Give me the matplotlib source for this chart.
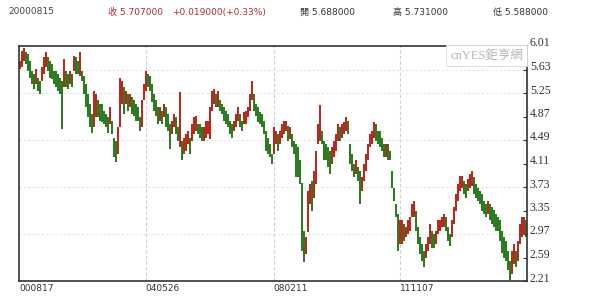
import matplotlib.pyplot as plt
import matplotlib.transforms as mtransforms
import numpy as np

# band top / bottom of each candle
highs = [
    5.77, 5.93, 5.98, 5.91, 5.88, 5.77, 5.61, 5.56, 5.64, 5.50,
    5.45, 5.67, 5.83, 5.91, 5.83, 5.77, 5.72, 5.61, 5.61, 5.56,
    5.50, 5.45, 5.80, 5.61, 5.56, 5.61, 5.56, 5.85, 5.83, 5.77,
    5.91, 5.61, 5.53, 5.40, 5.23, 5.07, 4.91, 5.29, 5.23, 5.13,
    5.07, 5.07, 4.96, 4.91, 4.86, 5.02, 4.80, 4.53, 4.48, 4.70,
    5.50, 5.45, 5.34, 5.29, 5.23, 5.23, 5.18, 5.13, 5.07, 5.02,
    4.86, 5.13, 5.40, 5.61,
    5.56, 5.53, 5.40, 5.23, 5.13, 5.02, 5.02, 4.96, 5.07, 5.02,
    4.91, 4.75, 4.80, 4.91, 4.86, 4.70, 5.26, 4.48, 4.53, 4.59,
    4.64, 4.53, 4.75, 4.86, 4.88, 4.75, 4.75, 4.70, 4.70, 4.80,
    4.80, 5.02, 5.29, 5.31, 5.23, 5.29, 5.13, 5.07, 5.02, 4.96,
    4.91, 4.80, 4.75, 4.80, 4.91, 5.02, 4.91, 4.80, 4.94, 4.96,
    5.02, 5.23, 5.45, 5.23, 5.07, 5.02, 4.94, 4.91, 4.80, 4.64,
    4.53, 4.43, 4.26,
    4.70, 4.64, 4.59, 4.64, 4.75, 4.80, 4.80, 4.72, 4.70, 4.59,
    4.48, 4.43, 4.37, 4.16, 3.80, 3.02, 2.92, 3.67, 3.78, 3.83,
    3.99, 4.32, 4.75, 5.05, 4.64, 4.48, 4.43, 4.37, 4.32, 4.37,
    4.48, 4.59, 4.75, 4.70, 4.75, 4.78, 4.86, 4.80, 4.43, 4.26,
    4.10, 4.16, 4.05, 3.99, 3.89, 4.10, 4.26, 4.43, 4.59, 4.64,
    4.78, 4.75, 4.64, 4.64, 4.53, 4.43, 4.43, 4.43, 4.32, 3.99,
    3.72, 3.46, 3.29, 3.19,
    3.19, 3.13, 3.08, 3.19, 3.24, 3.46, 3.51, 3.35, 3.08, 2.92,
    2.81, 2.70, 2.81, 2.92, 3.13, 3.02, 2.97, 3.02, 3.19, 3.19,
    3.24, 3.29, 3.24, 3.08, 2.97, 3.19, 3.40, 3.62, 3.78, 3.91,
    3.91, 3.83, 3.78, 3.86, 3.94, 3.99, 3.89, 3.78, 3.72, 3.67,
    3.62, 3.51, 3.46, 3.51, 3.46, 3.40, 3.35, 3.29, 3.24, 3.19,
    3.02, 2.92, 2.86, 2.70, 2.54, 2.70, 2.81, 2.70, 2.86, 3.13,
    3.24, 3.24, 3.19, 3.10,
]
lows = [
    5.64, 5.67, 5.77, 5.72, 5.61, 5.50, 5.40, 5.31, 5.40, 5.29,
    5.23, 5.45, 5.56, 5.67, 5.61, 5.50, 5.48, 5.40, 5.34, 5.29,
    5.23, 4.67, 5.34, 5.34, 5.31, 5.40, 5.34, 5.61, 5.56, 5.56,
    5.53, 5.45, 5.23, 5.02, 4.86, 4.70, 4.61, 4.70, 4.86, 4.86,
    4.80, 4.78, 4.75, 4.70, 4.61, 4.75, 4.59, 4.21, 4.13, 4.26,
    4.70, 5.07, 4.91, 5.07, 4.96, 5.02, 4.91, 4.88, 4.80, 4.80,
    4.64, 4.70, 5.13, 5.29,
    5.34, 5.29, 5.10, 4.96, 4.88, 4.75, 4.80, 4.75, 4.86, 4.70,
    4.64, 4.34, 4.59, 4.70, 4.59, 4.48, 4.37, 4.16, 4.26, 4.32,
    4.43, 4.26, 4.48, 4.59, 4.64, 4.59, 4.53, 4.48, 4.48, 4.53,
    4.59, 4.51, 4.96, 5.07, 5.02, 5.02, 4.96, 4.91, 4.80, 4.75,
    4.70, 4.59, 4.53, 4.64, 4.70, 4.80, 4.70, 4.64, 4.75, 4.75,
    4.86, 4.96, 5.13, 4.96, 4.88, 4.78, 4.75, 4.70, 4.59, 4.32,
    4.26, 4.21, 4.10,
    4.26, 4.43, 4.32, 4.43, 4.53, 4.59, 4.64, 4.48, 4.51, 4.37,
    4.26, 3.89, 3.89, 3.78, 2.70, 2.51, 2.65, 3.00, 3.46, 3.35,
    3.56, 3.78, 4.43, 4.48, 4.43, 4.16, 4.16, 4.05, 3.94, 4.10,
    4.21, 4.32, 4.48, 4.48, 4.53, 4.59, 4.64, 4.59, 4.10, 3.99,
    3.89, 3.94, 3.83, 3.46, 3.67, 3.83, 3.99, 4.16, 4.37, 4.43,
    4.53, 4.48, 4.43, 4.37, 4.32, 4.21, 4.21, 4.16, 4.16, 3.72,
    3.51, 3.24, 2.70, 2.81,
    2.81, 2.86, 2.92, 2.97, 3.02, 3.24, 3.24, 3.02, 2.81, 2.65,
    2.54, 2.43, 2.59, 2.70, 2.81, 2.75, 2.75, 2.81, 2.97, 3.02,
    3.08, 3.08, 3.02, 2.86, 2.78, 2.92, 3.13, 3.35, 3.51, 3.67,
    3.72, 3.62, 3.56, 3.67, 3.72, 3.75, 3.62, 3.56, 3.51, 3.46,
    3.35, 3.29, 3.24, 3.29, 3.19, 3.13, 3.08, 3.02, 3.02, 2.86,
    2.67, 2.59, 2.54, 2.38, 2.22, 2.32, 2.49, 2.43, 2.54, 2.81,
    2.92, 2.97, 2.92, 2.86,
]

date_labels = ['000817', '040526', '080211', '111107']
date_index = [0, 63, 127, 190]
price_ticks = [6.01, 5.63, 5.25, 4.87, 4.49, 4.11, 3.73, 3.35, 2.97, 2.59, 2.21]
grid_prices = [5.63, 5.25, 4.49, 3.73, 2.97]

code = '20000815'
close_text = '收 5.707000'
change_text = '+0.019000(+0.33%)'
open_text = '開 5.688000'
high_text = '高 5.731000'
low_text = '低 5.588000'

plt.rcParams['font.family'] = ['DejaVu Sans', 'Noto Sans CJK TC']

highs = np.array(highs)
lows = np.array(lows)
mid = (highs + lows) / 2
up = np.r_[True, mid[1:] >= mid[:-1]]
colors = np.where(up, '#b82a1e', '#2c7d22')
x = np.arange(len(highs))

fig = plt.figure(figsize=(6, 3.04), dpi=100)
ax = fig.add_axes([19 / 600, 23 / 304, 508 / 600, 235 / 304])

for p in grid_prices:
    ax.axhline(p, color='#e4e4e4', lw=0.8, ls=(0, (2, 2)), zorder=0)
for i in date_index[1:]:
    ax.axvline(i, color='#cfcfcf', lw=0.8, ls=(0, (3, 2)), zorder=0)

ax.bar(x, highs - lows, bottom=lows, width=1.0, color=colors, linewidth=0)

ax.set_xlim(-0.25, 253.75)
ax.set_ylim(2.21, 6.01)

ax.yaxis.tick_right()
ax.set_yticks(price_ticks, [f'{v:.2f}' for v in price_ticks])
ax.tick_params(axis='y', direction='in', length=3, width=0.8, pad=2,
               labelsize=8.5, colors='#333333')
offset = mtransforms.ScaledTranslation(0, 0.04, fig.dpi_scale_trans)
for lbl in ax.get_yticklabels():
    lbl.set_family('Liberation Serif')
    lbl.set_transform(lbl.get_transform() + offset)

ax.set_xticks(date_index, date_labels)
ax.tick_params(axis='x', length=0, pad=2, labelsize=6.5, colors='#333333')
plt.setp(ax.get_xticklabels(), ha='left')

for s in ax.spines.values():
    s.set_color('#333333')
    s.set_linewidth(1.2)

ax.text(0.992, 0.985, 'cnYES鉅亨網', transform=ax.transAxes, ha='right', va='top',
        fontsize=9, color='#b5b5b5', family=['Liberation Serif', 'Noto Sans CJK TC'],
        bbox=dict(boxstyle='square,pad=0.35', fc='white', ec='#dcdcdc', lw=0.6))

ty = 1 - 12 / 304
fig.text(8 / 600, ty, code, fontsize=6.5, color='#444444', va='center')
fig.text(108 / 600, ty, close_text, fontsize=6.5, color='#b0283a', va='center')
fig.text(172 / 600, ty, change_text, fontsize=6.5, color='#b0283a', va='center')
fig.text(300 / 600, ty, open_text, fontsize=6.5, color='#333333', va='center')
fig.text(393 / 600, ty, high_text, fontsize=6.5, color='#333333', va='center')
fig.text(493 / 600, ty, low_text, fontsize=6.5, color='#333333', va='center')

fig.savefig('out.png', dpi=100)
